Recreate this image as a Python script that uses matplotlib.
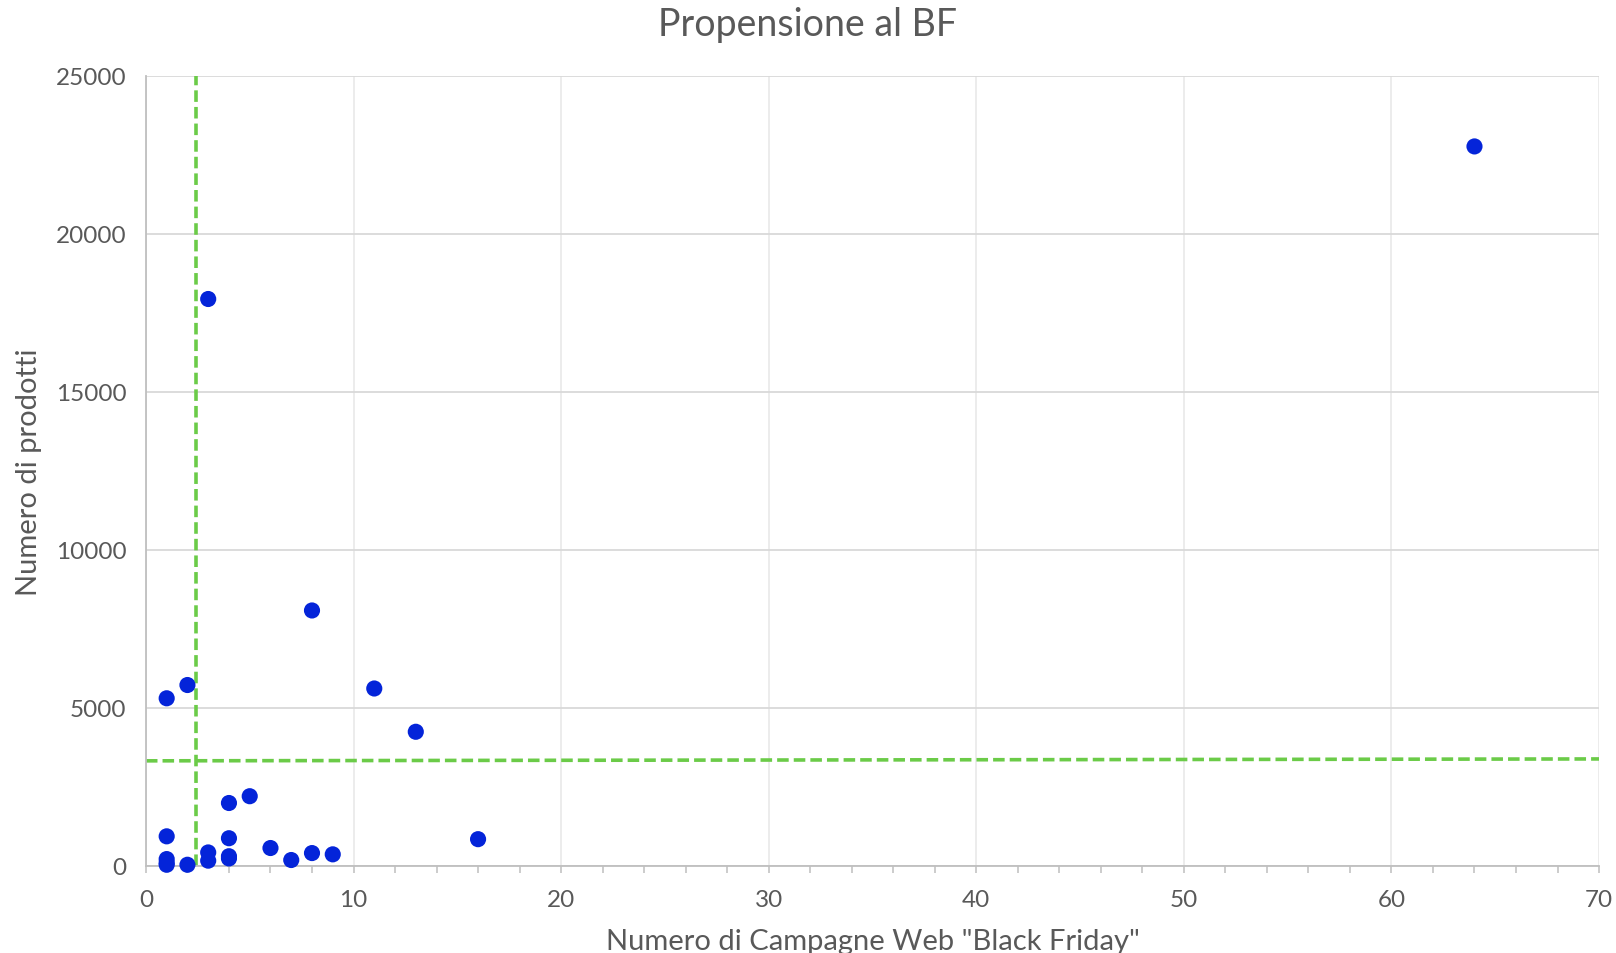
import matplotlib
matplotlib.use("Agg")
import matplotlib.pyplot as plt
from matplotlib.ticker import MultipleLocator

plt.rcParams['font.family'] = ['Lato', 'DejaVu Sans']

# campagne web "Black Friday" vs numero di prodotti
campagne = [1, 1, 1, 1, 1, 2, 2, 3, 3, 3, 4, 4, 4, 4, 5, 6, 7, 8, 8, 9, 11, 13, 16, 64]
prodotti = [5300, 930, 210, 90, 30, 5720, 30, 17940, 420, 160, 1985, 870, 300, 230,
            2200, 560, 180, 400, 8080, 360, 5610, 4240, 840, 22770]

# linee di riferimento (medie)
soglia_x = [2.41, 2.41]
soglia_x_y = [0, 25000]
soglia_y_x = [0, 70]
soglia_y = [3320, 3380]

txt = '#595959'
green = '#6BCB48'
blue = '#0424D9'

fig = plt.figure(figsize=(16.16, 9.54), dpi=100)
ax = fig.add_axes([0.0903, 0.0915, 0.8992, 0.8278])

ax.plot(soglia_x, soglia_x_y, color=green, lw=2.6, dashes=(3.2, 1.4), zorder=2)
ax.plot(soglia_y_x, soglia_y, color=green, lw=2.6, dashes=(3.2, 1.4), zorder=2)
ax.scatter(campagne, prodotti, s=135, color=blue, edgecolors='none', zorder=3, clip_on=False)

ax.set_xlim(0, 70)
ax.set_ylim(0, 25000)
ax.xaxis.set_major_locator(MultipleLocator(10))
ax.xaxis.set_minor_locator(MultipleLocator(2))
ax.yaxis.set_major_locator(MultipleLocator(5000))

ax.grid(axis='y', color='#D9D9D9', lw=1.3, zorder=0)
ax.grid(axis='x', which='major', color='#EBEBEB', lw=1.3, zorder=0)
ax.set_axisbelow(True)

for s in ['top', 'right']:
    ax.spines[s].set_visible(False)
ax.spines['left'].set_color('#BFBFBF')
ax.spines['bottom'].set_color('#BFBFBF')
ax.spines['left'].set_linewidth(1.3)
ax.spines['bottom'].set_linewidth(1.3)

ax.tick_params(axis='x', which='both', direction='out', length=5, width=1.1,
               color='#BFBFBF', labelsize=17.5, labelcolor=txt, pad=12)
ax.tick_params(axis='y', length=0, labelsize=17.5, labelcolor=txt, pad=14)

ax.set_xlabel('Numero di Campagne Web "Black Friday"', fontsize=21, color=txt, labelpad=13)
ax.set_ylabel('Numero di prodotti', fontsize=21, color=txt, labelpad=10)
fig.text(0.5, 0.974, 'Propensione al BF', fontsize=27, color=txt, ha='center', va='center')

fig.savefig('out.png', dpi=100)
